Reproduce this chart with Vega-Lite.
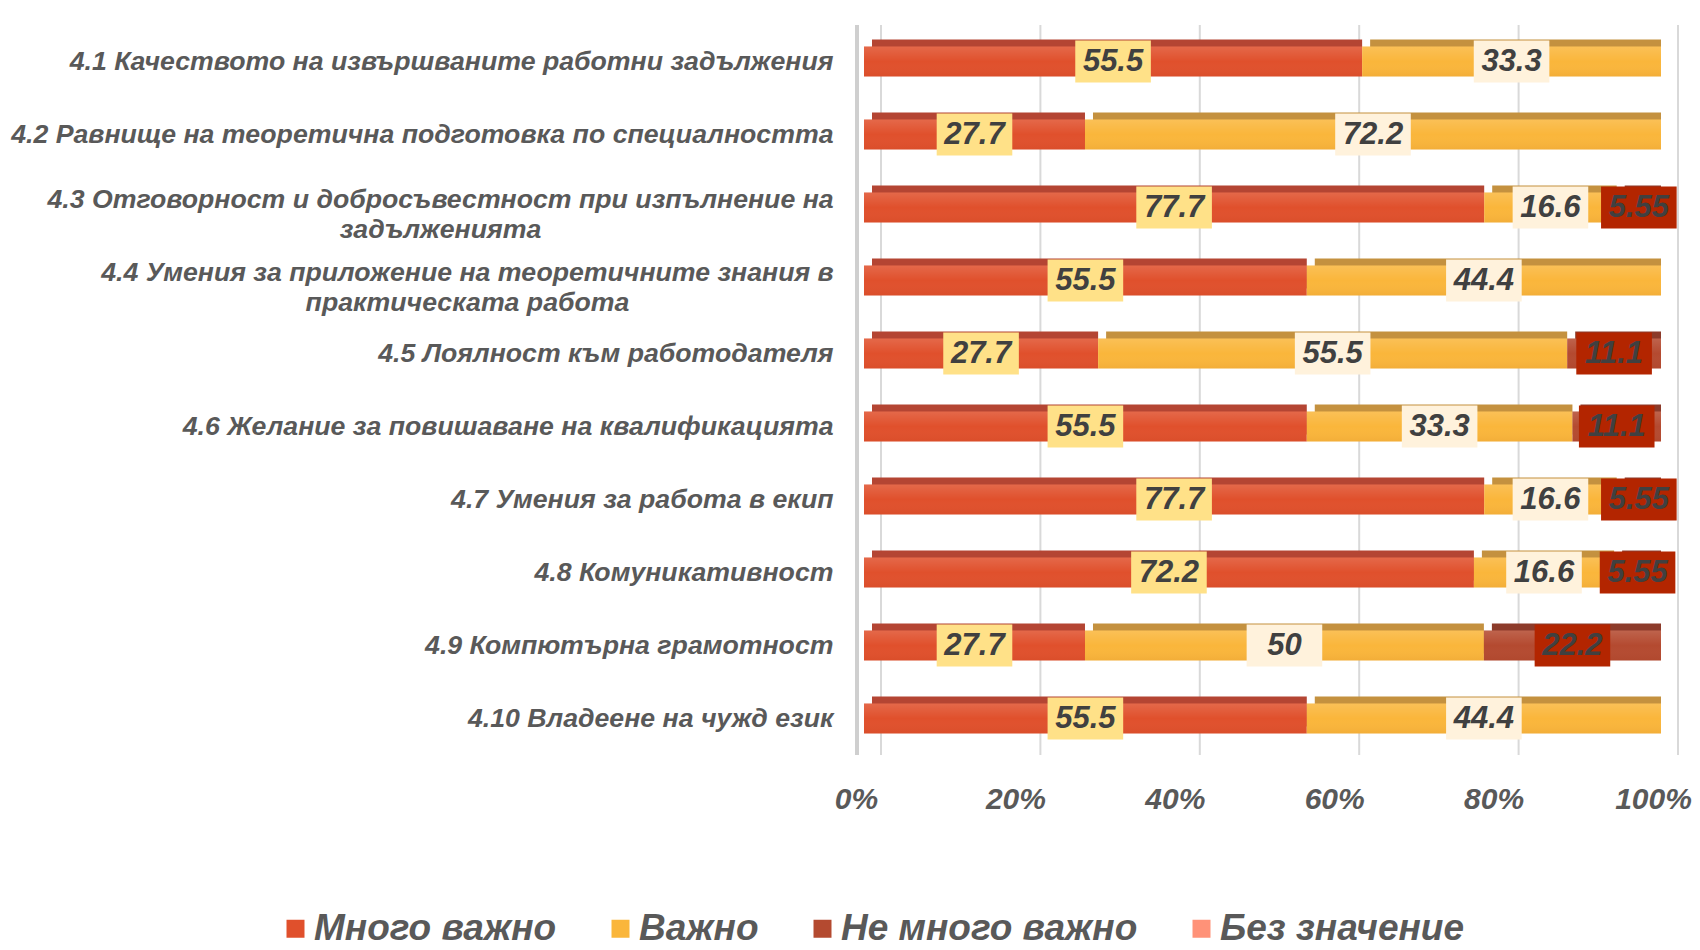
{
  "$schema": "https://vega.github.io/schema/vega-lite/v6.json",
  "width": 797,
  "height": 730,
  "autosize": {"type": "none"},
  "padding": {"left": 864, "top": 25, "right": 39, "bottom": 195},
  "background": "white",
  "config": {"view": {"stroke": null}, "font": "Liberation Sans"},
  "datasets": {
    "ratings": [
      {"item": "4.1 Качеството на извършваните работни задължения ", "category": "Много важно", "value": 55.5},
      {"item": "4.1 Качеството на извършваните работни задължения ", "category": "Важно", "value": 33.3},
      {"item": "4.2 Равнище на теоретична подготовка по специалността", "category": "Много важно", "value": 27.7},
      {"item": "4.2 Равнище на теоретична подготовка по специалността", "category": "Важно", "value": 72.2},
      {"item": "4.3 Отговорност и добросъвестност при изпълнение на|задълженията", "category": "Много важно", "value": 77.7},
      {"item": "4.3 Отговорност и добросъвестност при изпълнение на|задълженията", "category": "Важно", "value": 16.6},
      {"item": "4.3 Отговорност и добросъвестност при изпълнение на|задълженията", "category": "Не много важно", "value": 5.55},
      {"item": "4.4 Умения за приложение на теоретичните знания в|практическата работа", "category": "Много важно", "value": 55.5},
      {"item": "4.4 Умения за приложение на теоретичните знания в|практическата работа", "category": "Важно", "value": 44.4},
      {"item": "4.5 Лоялност към работодателя", "category": "Много важно", "value": 27.7},
      {"item": "4.5 Лоялност към работодателя", "category": "Важно", "value": 55.5},
      {"item": "4.5 Лоялност към работодателя", "category": "Не много важно", "value": 11.1},
      {"item": "4.6 Желание за повишаване на квалификацията", "category": "Много важно", "value": 55.5},
      {"item": "4.6 Желание за повишаване на квалификацията", "category": "Важно", "value": 33.3},
      {"item": "4.6 Желание за повишаване на квалификацията", "category": "Не много важно", "value": 11.1},
      {"item": "4.7 Умения за работа в екип", "category": "Много важно", "value": 77.7},
      {"item": "4.7 Умения за работа в екип", "category": "Важно", "value": 16.6},
      {"item": "4.7 Умения за работа в екип", "category": "Не много важно", "value": 5.55},
      {"item": "4.8  Комуникативност", "category": "Много важно", "value": 72.2},
      {"item": "4.8  Комуникативност", "category": "Важно", "value": 16.6},
      {"item": "4.8  Комуникативност", "category": "Не много важно", "value": 5.55},
      {"item": "4.9 Компютърна грамотност", "category": "Много важно", "value": 27.7},
      {"item": "4.9 Компютърна грамотност", "category": "Важно", "value": 50},
      {"item": "4.9 Компютърна грамотност", "category": "Не много важно", "value": 22.2},
      {"item": "4.10 Владеене на чужд език", "category": "Много важно", "value": 55.5},
      {"item": "4.10 Владеене на чужд език", "category": "Важно", "value": 44.4}
    ]
  },
  "layer": [
    {
      "data": {"values": [{"g": 0}, {"g": 0.2}, {"g": 0.4}, {"g": 0.6}, {"g": 0.8}, {"g": 1}]},
      "mark": {"type": "rule", "xOffset": 17, "color": "#D9D9D9", "strokeWidth": 2},
      "encoding": {
        "x": {
          "field": "g",
          "type": "quantitative",
          "title": null,
          "scale": {"domain": [0, 1], "nice": false},
          "axis": {
            "title": null,
            "domain": false,
            "ticks": false,
            "grid": false,
            "values": [0, 0.2, 0.4, 0.6, 0.8, 1],
            "format": ".0%",
            "labelFont": "Liberation Sans",
            "labelFontSize": 30,
            "labelFontStyle": "italic",
            "labelFontWeight": "bold",
            "labelColor": "#595959",
            "labelPadding": 29,
            "labelOffset": -8,
            "labelFlush": false
          }
        }
      }
    },
    {
      "data": {"values": [{"g": 0}]},
      "mark": {"type": "rule", "xOffset": -7, "color": "#CFCFCF", "strokeWidth": 4},
      "encoding": {
        "x": {"field": "g", "type": "quantitative", "title": null}
      }
    },
    {
      "data": {"name": "ratings"},
      "transform": [
        {"calculate": "indexof(['Много важно','Важно','Не много важно','Без значение'], datum.category)", "as": "rank"},
        {"stack": "value", "groupby": ["item"], "sort": [{"field": "rank", "order": "ascending"}], "offset": "normalize", "as": ["x0", "x1"]},
        {"calculate": "(datum.x0 + datum.x1) / 2", "as": "xm"}
      ],
      "encoding": {
        "y": {
          "field": "item",
          "type": "nominal",
          "title": null,
          "sort": [
            "4.1 Качеството на извършваните работни задължения ",
            "4.2 Равнище на теоретична подготовка по специалността",
            "4.3 Отговорност и добросъвестност при изпълнение на|задълженията",
            "4.4 Умения за приложение на теоретичните знания в|практическата работа",
            "4.5 Лоялност към работодателя",
            "4.6 Желание за повишаване на квалификацията",
            "4.7 Умения за работа в екип",
            "4.8  Комуникативност",
            "4.9 Компютърна грамотност",
            "4.10 Владеене на чужд език"
          ],
          "scale": {"paddingInner": 0, "paddingOuter": 0},
          "axis": {
            "domain": false,
            "ticks": false,
            "grid": false,
            "labelExpr": "split(datum.label, '|')",
            "labelFont": "Liberation Sans",
            "labelFontSize": 26.7,
            "labelFontStyle": "italic",
            "labelFontWeight": "bold",
            "labelColor": "#595959",
            "labelLimit": 0,
            "labelLineHeight": 30,
            "labelAlign": {"condition": {"test": "indexof(datum.value, '|') >= 0", "value": "center"}, "value": "right"},
            "labelPadding": {"condition": [
              {"test": "indexof(datum.value, '4.3') == 0", "value": 424},
              {"test": "indexof(datum.value, '4.4') == 0", "value": 397}
            ], "value": 31},
            "labelOffset": {"condition": {"test": "indexof(datum.value, '|') >= 0", "value": -8}, "value": 0}
          }
        }
      },
      "layer": [
        {
          "mark": {"type": "bar", "height": 30, "yOffset": -7, "xOffset": 8},
          "encoding": {
            "x": {"field": "x0", "type": "quantitative", "title": null},
            "x2": {"field": "x1"},
            "color": {
              "field": "category",
              "type": "nominal",
              "legend": null,
              "scale": {"domain": ["Много важно", "Важно", "Не много важно"], "range": ["#B44533", "#C4913F", "#8C3B2A"]}
            }
          }
        },
        {
          "mark": {"type": "bar", "height": 30},
          "encoding": {
            "x": {"field": "x0", "type": "quantitative", "title": null},
            "x2": {"field": "x1"},
            "color": {
              "field": "category",
              "type": "nominal",
              "scale": {
                "domain": ["Много важно", "Важно", "Не много важно", "Без значение"],
                "range": ["#E0502C", "#FAB63B", "#B44A30", "#FF9278"]
              },
              "legend": {
                "title": null,
                "orient": "none",
                "legendX": -587,
                "legendY": 885,
                "direction": "horizontal",
                "columns": 4,
                "symbolType": "square",
                "symbolSize": 324,
                "symbolStrokeWidth": 0,
                "labelFont": "Liberation Sans",
                "labelFontSize": 37,
                "labelFontStyle": "italic",
                "labelFontWeight": "bold",
                "labelColor": "#595959",
                "labelOffset": 0,
                "columnPadding": 45,
                "labelLimit": 0,
                "padding": 0
              }
            }
          }
        },
        {
          "mark": {
            "type": "bar",
            "height": 30,
            "fill": {
              "gradient": "linear",
              "x1": 0, "y1": 0, "x2": 0, "y2": 1,
              "stops": [
                {"offset": 0, "color": "rgba(255,255,255,0.14)"},
                {"offset": 0.5, "color": "rgba(255,255,255,0)"},
                {"offset": 1, "color": "rgba(120,30,0,0.06)"}
              ]
            }
          },
          "encoding": {
            "x": {"field": "x0", "type": "quantitative", "title": null},
            "x2": {"field": "x1"}
          }
        },
        {
          "mark": {"type": "point", "shape": "M-1.8,-1H1.8V1H-1.8Z", "size": 1764, "filled": true, "opacity": 1, "strokeWidth": 0},
          "encoding": {
            "x": {"field": "xm", "type": "quantitative", "title": null},
            "color": {
              "field": "category",
              "type": "nominal",
              "legend": null,
              "scale": {"domain": ["Много важно", "Важно", "Не много важно"], "range": ["#FFE188", "#FFF2DC", "#B32500"]}
            }
          }
        },
        {
          "mark": {"type": "text", "font": "Liberation Sans", "fontSize": 31, "fontStyle": "italic", "fontWeight": "bold", "color": "#404040", "align": "center", "baseline": "middle"},
          "encoding": {
            "x": {"field": "xm", "type": "quantitative", "title": null},
            "text": {"field": "value", "type": "nominal"}
          }
        }
      ],
      "resolve": {"scale": {"color": "independent"}}
    }
  ]
}
